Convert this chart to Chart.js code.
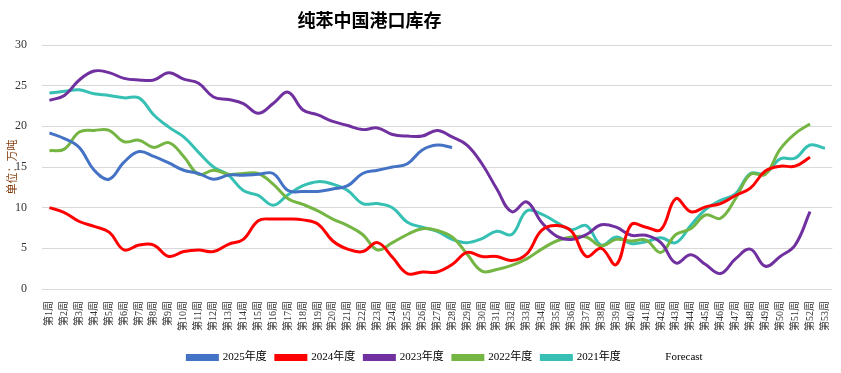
<!DOCTYPE html>
<html>
<head>
<meta charset="utf-8">
<script src="https://cdn.jsdelivr.net/npm/chart.js@4.4.1/dist/chart.umd.min.js"></script>
<style>
    html, body { margin: 0; padding: 0; background: #fff; }
    #wrap { position: relative; width: 841px; height: 373px; }
    #title {
        position: absolute; left: 0; top: 6px; width: 739px; text-align: center;
        font: bold 18px "Noto Sans CJK SC", serif; color: #000;
    }
</style>
</head>
<body>
<div id="wrap">
    <div id="title">纯苯中国港口库存</div>
    <canvas id="stockChart" width="841" height="373"></canvas>
</div>
<script>
// Weeks 1..53
const weeks = [];
for (let i = 1; i <= 53; i++) weeks.push('第' + i + '周');

const y2025 = [19.2, 18.5, 17.4, 14.6, 13.5, 15.6, 16.9, 16.3, 15.5, 14.6, 14.2, 13.5, 14.0, 14.0,
    14.1, 14.2, 12.1, 12.0, 12.0, 12.3, 12.7, 14.2, 14.6, 15.0, 15.4, 17.1, 17.7, 17.4];

const y2024 = [10.0, 9.4, 8.3, 7.7, 7.0, 4.8, 5.4, 5.4, 4.0, 4.6, 4.8, 4.6, 5.5, 6.1,
    8.4, 8.6, 8.6, 8.5, 8.0, 5.9, 4.9, 4.6, 5.7, 3.9, 1.9, 2.1, 2.1, 3.0,
    4.5, 4.0, 4.0, 3.5, 4.3, 7.2, 7.8, 7.1, 4.0, 5.0, 3.0, 7.9, 7.6, 7.3,
    11.1, 9.5, 10.1, 10.5, 11.5, 12.4, 14.5, 15.1, 15.1, 16.2, null];

const y2023 = [23.2, 23.8, 25.7, 26.8, 26.6, 25.9, 25.7, 25.7, 26.6, 25.8, 25.3, 23.6, 23.3, 22.8,
    21.6, 22.8, 24.2, 22.0, 21.4, 20.6, 20.1, 19.6, 19.8, 19.0, 18.8, 18.8, 19.5, 18.7,
    17.7, 15.4, 12.3, 9.5, 10.7, 8.2, 6.5, 6.1, 6.7, 7.9, 7.6, 6.6, 6.6, 5.7,
    3.2, 4.2, 3.0, 1.9, 3.7, 4.9, 2.8, 4.0, 5.4, 9.5, null];

const y2022 = [17.0, 17.2, 19.3, 19.5, 19.5, 18.1, 18.3, 17.4, 18.0, 16.3, 14.1, 14.6, 14.1, 14.2,
    14.2, 12.9, 11.1, 10.4, 9.6, 8.6, 7.8, 6.7, 4.8, 5.7, 6.7, 7.4, 7.2, 6.4,
    4.3, 2.2, 2.4, 2.9, 3.7, 4.9, 5.9, 6.4, 6.4, 5.3, 6.1, 5.9, 6.0, 4.5,
    6.7, 7.4, 9.1, 8.7, 11.1, 14.1, 14.1, 17.2, 19.1, 20.3, null];

const y2021 = [24.1, 24.3, 24.5, 24.0, 23.8, 23.5, 23.5, 21.4, 19.9, 18.7, 16.8, 15.0, 14.0, 12.1,
    11.5, 10.3, 11.6, 12.7, 13.2, 12.9, 12.1, 10.5, 10.5, 10.0, 8.2, 7.6, 7.1, 6.1,
    5.7, 6.2, 7.1, 6.7, 9.6, 9.2, 8.2, 7.3, 7.8, 5.4, 6.4, 5.6, 5.8, 6.3,
    5.7, 7.8, 9.8, 10.9, 11.7, 14.2, 14.2, 16.0, 16.1, 17.7, 17.3];

const forecast = [];

const yTicks = [0, 5, 10, 15, 20, 25, 30];

const serif = '"Liberation Serif", "Noto Sans CJK SC", serif';

function line(label, data, color) {
    return {
        label: label,
        data: data,
        borderColor: color,
        backgroundColor: color,
        borderWidth: 3,
        tension: 0.4,
        pointRadius: 0,
        fill: false,
        spanGaps: false
    };
}

// legend sits a little right of centre in the original
const legendShift = {
    id: 'legendShift',
    afterLayout: function(chart) {
        chart.legend.left += 28;
        chart.legend.right += 28;
    }
};

const ctx = document.getElementById('stockChart').getContext('2d');
new Chart(ctx, {
    type: 'line',
    data: {
        labels: weeks,
        datasets: [
            line('2025年度', y2025, '#4472C4'),
            line('2024年度', y2024, '#FF0000'),
            line('2023年度', y2023, '#7030A0'),
            line('2022年度', y2022, '#74B543'),
            line('2021年度', y2021, '#36C0B4'),
            line('Forecast', forecast, 'rgba(0,0,0,0)')
        ]
    },
    plugins: [legendShift],
    options: {
        responsive: false,
        animation: false,
        layout: { padding: { top: 45, right: 7, left: 0, bottom: 0 } },
        plugins: {
            legend: {
                position: 'bottom',
                labels: {
                    boxWidth: 30,
                    boxHeight: 4,
                    padding: 9,
                    color: '#000',
                    font: { family: serif, size: 11 }
                }
            },
            tooltip: { enabled: false }
        },
        scales: {
            x: {
                offset: true,
                grid: { display: false },
                border: { display: false },
                ticks: {
                    autoSkip: false,
                    minRotation: 90,
                    maxRotation: 90,
                    padding: 4,
                    color: '#333',
                    font: { family: serif, size: 10 }
                },
                afterFit: function(scale) { scale.height = 54; }
            },
            y: {
                min: 0,
                max: 30,
                afterBuildTicks: function(scale) {
                    scale.ticks = yTicks.map(v => ({ value: v }));
                },
                grid: { color: '#d9d9d9', drawTicks: false, lineWidth: 1 },
                border: { display: false },
                ticks: {
                    padding: 15,
                    color: '#333',
                    font: { family: serif, size: 12 }
                },
                title: {
                    display: true,
                    text: '单位：万吨',
                    color: '#843C0C',
                    padding: { top: 7, bottom: 0 },
                    font: { family: serif, size: 11 }
                },
                afterFit: function(scale) { scale.width = 42; }
            }
        }
    }
});
</script>
</body>
</html>
